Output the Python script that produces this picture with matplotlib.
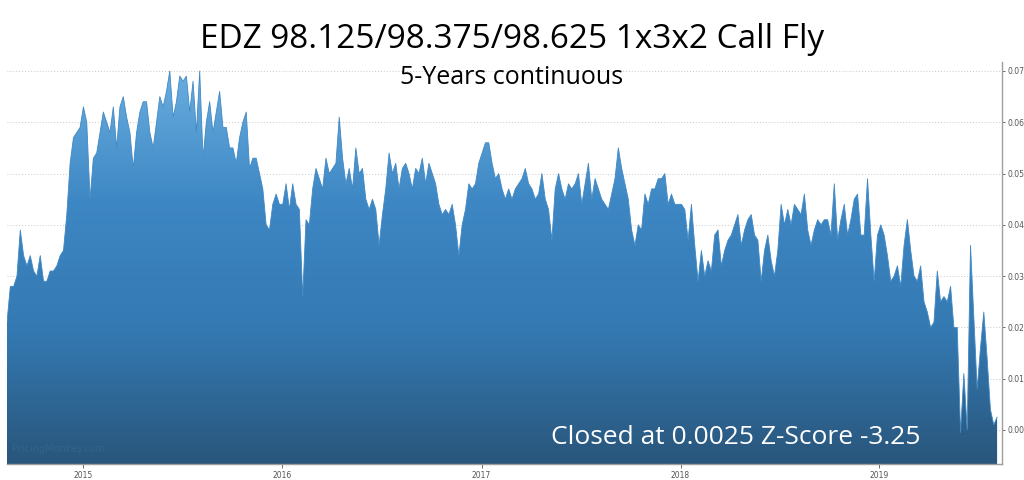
import numpy as np
import pandas as pd
import matplotlib
matplotlib.use("Agg")
import matplotlib.pyplot as plt
import matplotlib.dates as mdates
from matplotlib.colors import LinearSegmentedColormap

TITLE = "EDZ 98.125/98.375/98.625 1x3x2 Call Fly"
SUBTITLE = "5-Years continuous"
CAPTION = "Closed at 0.0025 Z-Score -3.25"
WATERMARK = "PricingMonkey.com"

START_DATE = "2014-08-14"
END_DATE = "2019-08-05"

# fly price (roughly every 6 trading days)
fly_price = [
    0.021, 0.028, 0.028, 0.030, 0.039, 0.034, 0.032, 0.034, 0.031,
    0.030, 0.034, 0.029, 0.029, 0.031, 0.031, 0.032, 0.034, 0.035,
    0.042, 0.052, 0.057, 0.058, 0.059, 0.063, 0.060, 0.045, 0.053,
    0.054, 0.058, 0.062, 0.060, 0.058, 0.063, 0.055, 0.063, 0.065,
    0.061, 0.058, 0.051, 0.058, 0.062, 0.064, 0.064, 0.058, 0.055,
    0.060, 0.065, 0.063, 0.066, 0.070, 0.061, 0.064, 0.069, 0.068,
    0.069, 0.062, 0.068, 0.058, 0.070, 0.053, 0.060, 0.064, 0.058,
    0.062, 0.066, 0.059, 0.059, 0.055, 0.055, 0.052, 0.057, 0.060,
    0.062, 0.051, 0.053, 0.053, 0.050, 0.047, 0.040, 0.039, 0.044,
    0.046, 0.044, 0.044, 0.048, 0.043, 0.048, 0.044, 0.043, 0.026,
    0.041, 0.040, 0.047, 0.051, 0.049, 0.047, 0.053, 0.050, 0.051,
    0.052, 0.061, 0.053, 0.048, 0.051, 0.047, 0.055, 0.050, 0.051,
    0.045, 0.043, 0.045, 0.043, 0.036, 0.042, 0.047, 0.054, 0.050,
    0.052, 0.047, 0.051, 0.052, 0.050, 0.047, 0.051, 0.050, 0.053,
    0.048, 0.052, 0.050, 0.048, 0.044, 0.042, 0.043, 0.042, 0.044,
    0.040, 0.034, 0.040, 0.043, 0.048, 0.047, 0.048, 0.052, 0.054,
    0.056, 0.056, 0.052, 0.049, 0.050, 0.047, 0.045, 0.047, 0.045,
    0.047, 0.048, 0.049, 0.051, 0.048, 0.047, 0.045, 0.046, 0.050,
    0.045, 0.043, 0.037, 0.047, 0.050, 0.047, 0.045, 0.048, 0.047,
    0.048, 0.050, 0.044, 0.048, 0.052, 0.045, 0.049, 0.047, 0.045,
    0.044, 0.043, 0.046, 0.049, 0.055, 0.051, 0.048, 0.045, 0.039,
    0.036, 0.040, 0.039, 0.046, 0.044, 0.047, 0.047, 0.049, 0.049,
    0.050, 0.044, 0.046, 0.044, 0.044, 0.044, 0.043, 0.037, 0.044,
    0.036, 0.029, 0.035, 0.030, 0.033, 0.031, 0.038, 0.039, 0.032,
    0.035, 0.037, 0.038, 0.040, 0.042, 0.036, 0.039, 0.041, 0.042,
    0.038, 0.037, 0.029, 0.035, 0.038, 0.033, 0.030, 0.035, 0.044,
    0.040, 0.043, 0.040, 0.044, 0.043, 0.042, 0.046, 0.039, 0.036,
    0.039, 0.041, 0.040, 0.041, 0.041, 0.038, 0.048, 0.037, 0.041,
    0.044, 0.038, 0.041, 0.045, 0.046, 0.038, 0.038, 0.049, 0.038,
    0.029, 0.038, 0.040, 0.038, 0.034, 0.029, 0.030, 0.032, 0.028,
    0.036, 0.041, 0.035, 0.030, 0.029, 0.032, 0.025, 0.023, 0.020,
    0.021, 0.031, 0.025, 0.026, 0.025, 0.028, 0.020, 0.020, -0.0005,
    0.011, 0.000, 0.036, 0.022, 0.008, 0.016, 0.023, 0.014, 0.004,
    0.001, 0.0025,
]
y_ticks = [0.00, 0.01, 0.02, 0.03, 0.04, 0.05, 0.06, 0.07]

dates = pd.date_range(START_DATE, END_DATE, periods=len(fly_price))
x = mdates.date2num(dates)
y = np.array(fly_price)

fig = plt.figure(figsize=(10.24, 4.8), dpi=100)
ax = fig.add_axes([7 / 1024, 16 / 480, 995 / 1024, 402 / 480])

y_lo, y_hi = -0.00663, 0.07175
x_end = mdates.date2num(pd.Timestamp("2019-08-14"))

# grid under the area
for t in y_ticks:
    ax.axhline(t, color="#c8c8c8", lw=0.7, ls=(0, (1, 2)), zorder=0)

# gradient filled area
poly = ax.fill_between(x, y, y_lo, color="none", lw=0, zorder=1)
cmap = LinearSegmentedColormap.from_list(
    "fly", ["#29567b", "#3479b2", "#3d87c4", "#6aaee0"])
grad = np.linspace(0, 1, 256).reshape(-1, 1)
im = ax.imshow(grad, cmap=cmap, aspect="auto", origin="lower",
               extent=[x[0], x[-1], y_lo, 0.07], zorder=1)
im.set_clip_path(poly.get_paths()[0], transform=ax.transData)
ax.plot(x, y, color="#4189c4", lw=0.6, zorder=2)

ax.set_xlim(x[0], x_end)
ax.set_ylim(y_lo, y_hi)

# axes styling
for side in ["top", "left"]:
    ax.spines[side].set_visible(False)
for side in ["right", "bottom"]:
    ax.spines[side].set_color("#9e9e9e")
    ax.spines[side].set_linewidth(1.0)
ax.yaxis.tick_right()
ax.set_yticks(y_ticks)
ax.set_yticklabels([f"{t:.2f}" for t in y_ticks])
ax.xaxis.set_major_locator(mdates.YearLocator())
ax.xaxis.set_major_formatter(mdates.DateFormatter("%Y"))
ax.tick_params(axis="both", labelsize=5.5, colors="#555555",
               length=3, width=0.6, pad=2)
ax.tick_params(axis="y", length=2)

# text
fig.text(0.5, 1 - 40 / 480, TITLE, ha="center", va="center",
         fontsize=24, family="Open Sans", color="black")
fig.text(0.5, 1 - 77 / 480, SUBTITLE, ha="center", va="center",
         fontsize=18, family="Open Sans", color="black")
fig.text(736 / 1024, 1 - 438 / 480, CAPTION, ha="center", va="center",
         fontsize=19, family="Open Sans", color="white", zorder=5)
ax.text(0.005, 0.03, WATERMARK, transform=ax.transAxes, fontsize=7,
        color="#3a6a92", alpha=0.6, zorder=3)

fig.savefig("out.png", dpi=100)
